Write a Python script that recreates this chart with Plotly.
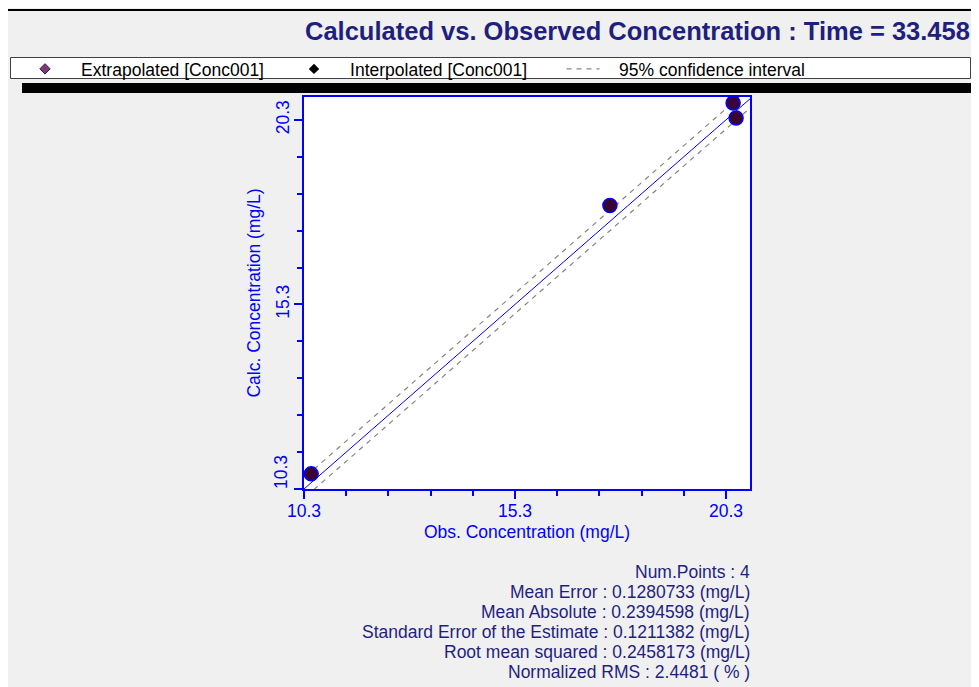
import plotly.graph_objects as go

# ---- data ----
obs_conc = [10.47, 17.55, 20.47, 20.54]
calc_conc = [10.71, 17.98, 20.76, 20.35]

identity_vals = [10.3, 21.0]
ci_obs = [10.0, 21.2]
ci_upper = [10.3, 21.5]
ci_lower = [9.75, 20.95]

tick_vals = [10.3, 15.3, 20.3]
tick_text = ["10.3", "15.3", "20.3"]
x_range = [10.3, 20.87]
y_range = [10.3, 20.92]

stat_labels = ["Num.Points", "Mean Error", "Mean Absolute",
               "Standard Error of the Estimate", "Root mean squared",
               "Normalized RMS"]
stat_values = ["4", "0.1280733 (mg/L)", "0.2394598 (mg/L)",
               "0.1211382 (mg/L)", "0.2458173 (mg/L)", "2.4481 ( % )"]

title = "Calculated vs. Observed Concentration : Time = 33.458"

W, H = 979, 687
OFF = 8  # page body margin, figure sits 8px in from the window corner
FONT = "Liberation Sans, Arial, sans-serif"
BLUE = "#0000ff"
NAVY = "#1f1f80"
TXT = 17.5
PAD = "\u00a0" * 3  # gap between legend symbol and its text


def px(x):
    # window pixel -> paper fraction
    return (x - OFF) / W


def py(y):
    return 1 - (y - OFF) / H


fig = go.Figure()

# 1:1 line
fig.add_trace(go.Scatter(
    x=identity_vals, y=identity_vals, mode="lines",
    line=dict(color=BLUE, width=1), showlegend=False, hoverinfo="skip"))

# confidence band
ci_line = dict(color="#858585", width=1.2, dash="5px,5px")
fig.add_trace(go.Scatter(
    x=ci_obs, y=ci_upper, mode="lines", name=PAD + "95% confidence interval",
    line=ci_line, legendrank=3))
fig.add_trace(go.Scatter(
    x=ci_obs, y=ci_lower, mode="lines", showlegend=False, line=ci_line))

# points
fig.add_trace(go.Scatter(
    x=obs_conc, y=calc_conc, mode="markers", showlegend=False,
    cliponaxis=False,
    marker=dict(size=14, color="#3a0630", line=dict(color=BLUE, width=1.5))))

# legend-only entries
fig.add_trace(go.Scatter(
    x=[None], y=[None], mode="markers", name=PAD + "Extrapolated [Conc001]",
    marker=dict(symbol="diamond", size=8, color="#7a3a7a",
                line=dict(color="#3a1a3a", width=1)), legendrank=1))
fig.add_trace(go.Scatter(
    x=[None], y=[None], mode="markers", name=PAD + "Interpolated [Conc001]",
    marker=dict(symbol="diamond", size=8, color="black"), legendrank=2))

shapes = [
    # outer frame
    dict(type="line", xref="paper", yref="paper",
         x0=px(6), x1=px(W + 20), y0=py(10), y1=py(10),
         line=dict(color="black", width=2)),
    dict(type="line", xref="paper", yref="paper",
         x0=px(6.5), x1=px(6.5), y0=py(10), y1=py(H + 20),
         line=dict(color="black", width=2)),
    # legend shadow
    dict(type="rect", xref="paper", yref="paper",
         x0=px(22), x1=px(W + 20), y0=py(83), y1=py(93),
         fillcolor="black", line=dict(width=0)),
    dict(type="rect", xref="paper", yref="paper",
         x0=px(972), x1=px(W + 20), y0=py(63), y1=py(93),
         fillcolor="black", line=dict(width=0)),
    # legend box
    dict(type="rect", xref="paper", yref="paper",
         x0=px(10.5), x1=px(970.5), y0=py(57.5), y1=py(78.5),
         fillcolor="white", line=dict(color="#404040", width=1)),
]

annotations = [dict(
    text="<b>%s</b>" % title, xref="paper", yref="paper",
    x=px(303), y=py(31), xanchor="left", yanchor="middle",
    showarrow=False, font=dict(family=FONT, size=25.5, color=NAVY))]

for i, (lab, val) in enumerate(zip(stat_labels, stat_values)):
    annotations.append(dict(
        text="%s : %s" % (lab, val), xref="paper", yref="paper",
        x=px(752), y=py(572 + 20 * i), xanchor="right", yanchor="middle",
        showarrow=False, font=dict(family=FONT, size=TXT, color=NAVY)))

# the lowest y label sits above its tick so it stays beside the axis
annotations.append(dict(
    text=tick_text[0], xref="paper", yref="y", x=px(281), y=tick_vals[0],
    xanchor="center", yanchor="middle", yshift=17, textangle=-90,
    showarrow=False, font=dict(family=FONT, size=TXT, color=BLUE)))

axis_common = dict(
    automargin=False,
    showgrid=False, zeroline=False, showline=True, mirror=True,
    linecolor=BLUE, linewidth=2, ticks="outside", tickcolor=BLUE,
    tickwidth=2, ticklen=8, tickvals=tick_vals,
    tickfont=dict(family=FONT, size=TXT, color=BLUE),
    minor=dict(ticks="outside", dtick=1, tick0=10.3, ticklen=5,
               tickcolor=BLUE, tickwidth=2),
)

fig.update_layout(
    template="none",
    width=W, height=H, autosize=False,
    margin=dict(l=0, r=0, t=0, b=0, pad=0),
    paper_bgcolor="#f0f0f0", plot_bgcolor="white",
    font=dict(family=FONT, color="black"),
    shapes=shapes, annotations=annotations,
    xaxis=dict(
        axis_common, range=x_range, domain=[px(304), px(750)],
        ticktext=tick_text, ticklabelstandoff=-3,
        title=dict(text="Obs. Concentration (mg/L)", standoff=6,
                   font=dict(family=FONT, size=TXT, color=BLUE))),
    yaxis=dict(
        axis_common, range=y_range, domain=[py(489), py(97)],
        ticktext=[""] + tick_text[1:],
        tickangle=-90, ticklabelstandoff=-2,
        title=dict(text="Calc. Concentration (mg/L)", standoff=8,
                   font=dict(family=FONT, size=TXT, color=BLUE))),
    legend=dict(
        orientation="h", x=px(23.5), y=py(51), xanchor="left", yanchor="top",
        bgcolor="rgba(0,0,0,0)", borderwidth=0, entrywidth=221,
        entrywidthmode="pixels", itemwidth=33,
        font=dict(family=FONT, size=TXT, color="black")),
)

fig.write_html("out.html")
